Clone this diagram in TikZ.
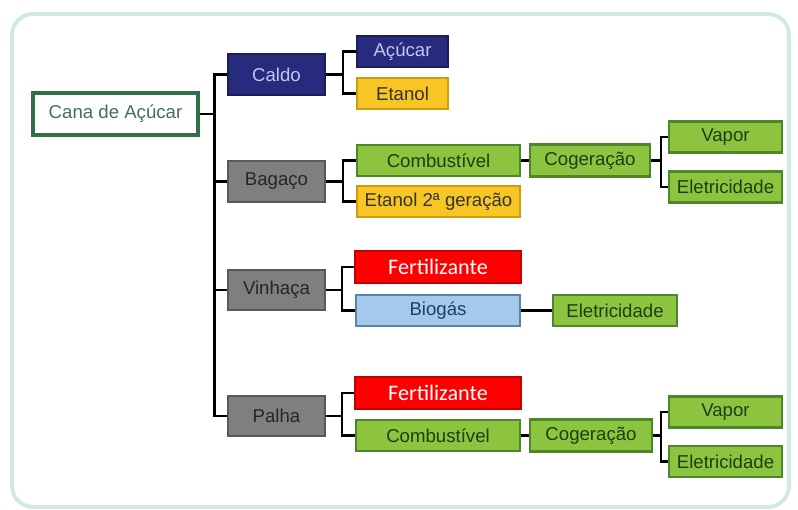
\documentclass[tikz,border=0pt]{standalone}
\usepackage{fontspec}
\setmainfont{Liberation Sans}
\newfontfamily\calfont{Carlito}
\usepackage{xcolor}
\definecolor{moldura}{HTML}{CFE9E5}
\definecolor{azulesc}{HTML}{272B7E}
\definecolor{lilas}{HTML}{C2C6F2}
\definecolor{ouro}{HTML}{F7C524}
\definecolor{ourob}{HTML}{D39A10}
\definecolor{cinzaf}{HTML}{7F7F7F}
\definecolor{folha}{HTML}{8DC43F}
\definecolor{folhab}{HTML}{4E862A}
\definecolor{folhat}{HTML}{1F3D12}
\definecolor{ceu}{HTML}{A5C9EA}
\definecolor{ceub}{HTML}{5D82AA}
\definecolor{ceut}{HTML}{1F3F6B}
\definecolor{musgo}{HTML}{2F7048}

\begin{document}
\begin{tikzpicture}[x=0.02cm, y=-0.02cm,
    bloco/.style = {rectangle, line width=1.2pt, inner sep=0pt, minimum height=0.62cm,
                    font=\fontsize{10.6}{12}\selectfont},
    azul/.style = {bloco, fill=azulesc, draw=azulesc!70!black, text=lilas},
    amarelo/.style = {bloco, fill=ouro, draw=ourob, text=black!80},
    cinza/.style = {bloco, fill=cinzaf, draw=black!65, text=black!85, minimum width=1.94cm, minimum height=0.81cm},
    verde/.style = {bloco, fill=folha, draw=folhab, text=folhat},
    vermelho/.style = {bloco, fill=red, draw=red!75!black, text=white, minimum width=3.32cm,
                       minimum height=0.64cm, font=\calfont\fontsize{12.6}{14}\selectfont},
    celeste/.style = {bloco, fill=ceu, draw=ceub, text=ceut},
    liga/.style = {line width=1.5pt, black}]
    \useasboundingbox (0,0) rectangle (798,510);
    \draw[moldura, line width=2.2pt, rounded corners=12] (12,14) rectangle (789,507);

    \node[bloco, fill=white, draw=musgo, line width=2pt, text=musgo!80!gray,
          minimum width=3.3cm, minimum height=0.84cm] (cana) at (115.5,114) {Cana de Açúcar};

    \node[azul, minimum width=1.94cm, minimum height=0.82cm] (caldo) at (276.5,74.5) {Caldo};
    \node[azul, minimum width=1.82cm] (acucar) at (402.5,51.5) {Açúcar};
    \node[amarelo, minimum width=1.82cm] (etanol) at (402.5,93.5) {Etanol};

    \node[cinza] (bagaco) at (276.5,181.5) {Bagaço};
    \node[verde, minimum width=3.26cm] (comb) at (438.5,160.5) {Combustível};
    \node[amarelo, minimum width=3.26cm] (etanol2) at (438.5,201.5) {Etanol 2ª geração};
    \node[verde, minimum width=2.4cm, minimum height=0.64cm] (coger) at (590,160.5) {Cogeração};
    \node[verde, minimum width=2.26cm] (vapor) at (725.5,137) {Vapor};
    \node[verde, minimum width=2.26cm] (eletr) at (725.5,187) {Eletricidade};

    \node[cinza] (vinhaca) at (276.5,290) {Vinhaça};
    \node[vermelho] (fert) at (438,267) {Fertilizante};
    \node[celeste, minimum width=3.28cm] (biogas) at (438,310.5) {Biogás};
    \node[verde, minimum width=2.48cm] (eletrb) at (615,310.5) {Eletricidade};

    \node[cinza] (palha) at (276.5,416) {Palha};
    \node[vermelho] (fert2) at (438,393) {Fertilizante};
    \node[verde, minimum width=3.28cm] (comb2) at (438,435.5) {Combustível};
    \node[verde, minimum width=2.44cm, minimum height=0.64cm] (coger2) at (591,435.5) {Cogeração};
    \node[verde, minimum width=2.26cm] (vapor2) at (725.5,412) {Vapor};
    \node[verde, minimum width=2.26cm] (eletr2) at (725.5,461.5) {Eletricidade};

    % ligacoes
    \foreach \n in {caldo,bagaco,vinhaca,palha}
        \draw[liga] (cana.east) -- ++(15,0) |- (\n.west);
    \foreach \n in {acucar,etanol}
        \draw[liga] (caldo.east) -- ++(17,0) |- (\n.west);
    \foreach \n in {comb,etanol2}
        \draw[liga] (bagaco.east) -- ++(17,0) |- (\n.west);
    \foreach \n in {fert,biogas}
        \draw[liga] (vinhaca.east) -- ++(16,0) |- (\n.west);
    \foreach \n in {fert2,comb2}
        \draw[liga] (palha.east) -- ++(16,0) |- (\n.west);
    \foreach \n in {vapor,eletr}
        \draw[liga] (coger.east) -- ++(10,0) |- (\n.west);
    \foreach \n in {vapor2,eletr2}
        \draw[liga] (coger2.east) -- ++(8,0) |- (\n.west);
    \draw[liga] (comb) -- (coger);
    \draw[liga] (comb2) -- (coger2);
    \draw[liga] (biogas) -- (eletrb);
\end{tikzpicture}
\end{document}
